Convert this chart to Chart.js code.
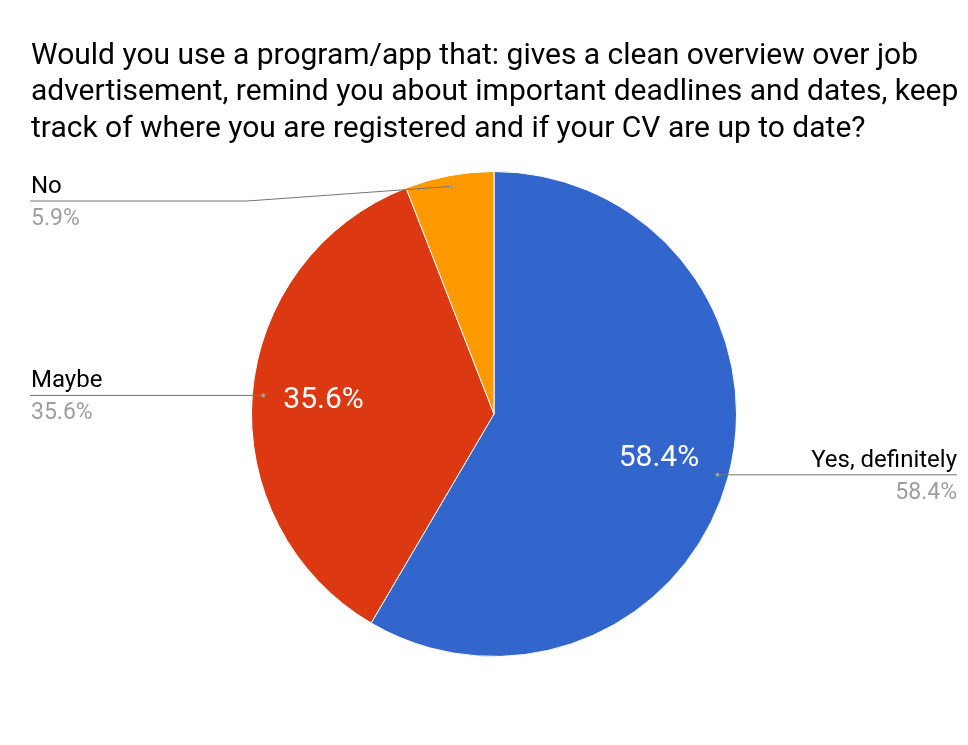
<!DOCTYPE html>
<html>
<head>
<meta charset="utf-8">
<script src="https://cdn.jsdelivr.net/npm/chart.js@4/dist/chart.umd.min.js"></script>
<style>
html,body{margin:0;padding:0;background:#fff;}
#wrap{width:968px;height:745px;}
</style>
</head>
<body>
<div id="wrap"><canvas id="c" width="968" height="745"></canvas></div>
<script>
const titleLines = [
  "Would you use a program/app that: gives a clean overview over job",
  "advertisement, remind you about important deadlines and dates, keep",
  "track of where you are registered and if your CV are up to date?"
];
const categories = ["Yes, definitely", "Maybe", "No"];
const values = [58.4, 35.6, 5.9];
const pctLabels = ["58.4%", "35.6%", "5.9%"];
const colors = ["#3366cc", "#dc3912", "#ff9900"];

const FONT = "Roboto, 'Noto Sans', Arial, sans-serif";

const labelPlugin = {
  id: 'labelPlugin',
  afterDraw(chart) {
    const ctx = chart.ctx;
    ctx.save();
    // title
    ctx.fillStyle = '#000';
    ctx.font = '30px ' + FONT;
    ctx.textAlign = 'left';
    ctx.textBaseline = 'alphabetic';
    titleLines.forEach((t, i) => ctx.fillText(t, 31, 64 + i * 36.3));

    const meta = chart.getDatasetMeta(0);
    meta.data.forEach((arc, i) => {
      const mid = (arc.startAngle + arc.endAngle) / 2;
      const cx = arc.x, cy = arc.y, R = arc.outerRadius;
      // inside label
      if (arc.circumference > 0.6) {
        const ir = R * 0.705;
        ctx.fillStyle = '#fff';
        ctx.font = '30px ' + FONT;
        ctx.textAlign = 'center';
        ctx.textBaseline = 'middle';
        ctx.fillText(pctLabels[i], cx + Math.cos(mid) * ir, cy + Math.sin(mid) * ir);
      }
      // leader dot
      const dr = R * 0.955;
      const dx = cx + Math.cos(mid) * dr, dy = cy + Math.sin(mid) * dr;
      const right = Math.cos(mid) > 0;
      const lineY = Math.max(dy, 201);
      ctx.strokeStyle = '#757575';
      ctx.lineWidth = 1;
      ctx.beginPath();
      if (right) {
        ctx.moveTo(dx, dy);
        ctx.lineTo(957, lineY);
      } else {
        ctx.moveTo(30, lineY);
        if (lineY !== dy) {
          ctx.lineTo(247, lineY);
        }
        ctx.lineTo(dx, dy);
      }
      ctx.stroke();
      ctx.fillStyle = '#9e9e9e';
      ctx.beginPath();
      ctx.arc(dx, dy, 2, 0, Math.PI * 2);
      ctx.fill();
      // texts
      ctx.textBaseline = 'alphabetic';
      ctx.textAlign = right ? 'right' : 'left';
      const tx = right ? 957 : 31;
      ctx.font = '24px ' + FONT;
      ctx.fillStyle = '#000';
      ctx.fillText(categories[i], tx, lineY - 8);
      ctx.font = '23px ' + FONT;
      ctx.fillStyle = '#9e9e9e';
      ctx.fillText(pctLabels[i], tx, lineY + 24);
    });
    ctx.restore();
  }
};

new Chart(document.getElementById('c'), {
  type: 'pie',
  data: {
    labels: categories,
    datasets: [{
      data: values,
      backgroundColor: colors,
      borderColor: '#ffffff',
      borderWidth: 1,
      hoverOffset: 0
    }]
  },
  options: {
    responsive: false,
    animation: false,
    layout: { padding: { left: 251, right: 231, top: 171, bottom: 88 } },
    plugins: {
      legend: { display: false },
      tooltip: { enabled: false },
      title: { display: false }
    }
  },
  plugins: [labelPlugin]
});
</script>
</body>
</html>
